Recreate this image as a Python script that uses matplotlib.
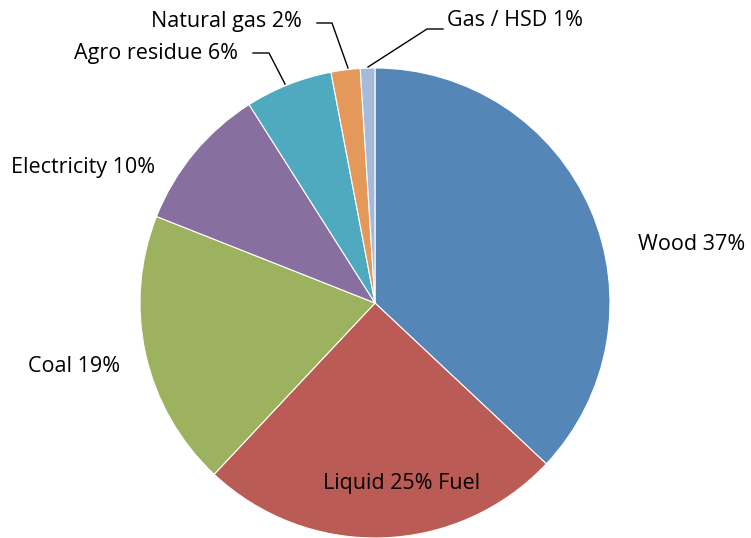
import matplotlib.pyplot as plt

plt.rcParams['font.family'] = ['Open Sans', 'DejaVu Sans']

sources = ['Wood', 'Liquid Fuel', 'Coal', 'Electricity', 'Agro residue', 'Natural gas', 'Gas / HSD']
shares = [37, 25, 19, 10, 6, 2, 1]
colors = ['#5586b8', '#bb5b55', '#9cb25f', '#8770a0', '#4faabf', '#e4985a', '#a6badc']

fig = plt.figure(figsize=(7.51, 5.38), dpi=100)
ax = fig.add_axes([0, 0, 1, 1])

ax.pie(shares, colors=colors, startangle=90, counterclock=False,
       radius=1, center=(0, 0),
       wedgeprops=dict(edgecolor='white', linewidth=0.8))

# 1 data unit = 235 px, pie centred at (375, 303) px
ax.set_xlim(-375 / 235, (751 - 375) / 235)
ax.set_ylim(-(538 - 303) / 235, 303 / 235)
ax.set_aspect('equal')
ax.axis('off')


def px(x, y):
    return (x - 375) / 235, (303 - y) / 235


fs = 15.5
ax.text(*px(638, 244), 'Wood %d%%' % shares[0], ha='left', va='center', fontsize=fs)
ax.text(*px(402, 484), 'Liquid %d%% Fuel' % shares[1], ha='center', va='center', fontsize=fs)
ax.text(*px(120, 366), 'Coal %d%%' % shares[2], ha='right', va='center', fontsize=fs)
ax.text(*px(155, 168), 'Electricity %d%%' % shares[3], ha='right', va='center', fontsize=fs)
ax.text(*px(238, 53), 'Agro residue %d%%' % shares[4], ha='right', va='center', fontsize=fs)
ax.text(*px(302, 21), 'Natural gas %d%%' % shares[5], ha='right', va='center', fontsize=fs)
ax.text(*px(447, 21), 'Gas / HSD %d%%' % shares[6], ha='left', va='center', fontsize=fs)

# leader lines for the small slices
leaders = [
    [(253, 53), (269, 53), (285, 84)],
    [(317, 23), (332, 23), (348, 68)],
    [(443, 29), (427, 29), (368, 67)],
]
for pts in leaders:
    xs, ys = zip(*[px(x, y) for x, y in pts])
    ax.plot(xs, ys, color='black', linewidth=1)

fig.savefig('out.png', dpi=100)
